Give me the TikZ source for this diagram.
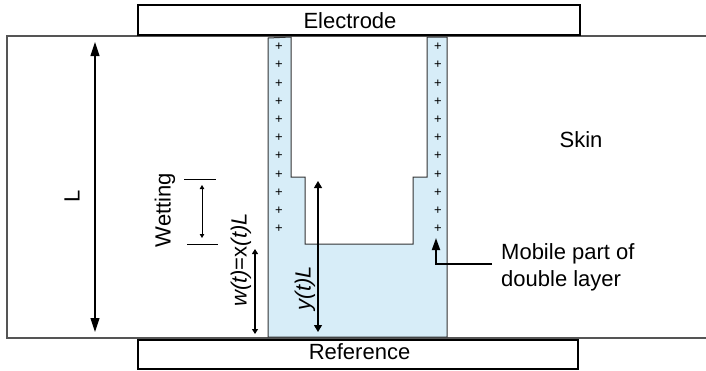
\documentclass[tikz,border=0pt]{standalone}
\usepackage{fontspec}
\setmainfont{Liberation Sans}
\usetikzlibrary{arrows.meta}
\definecolor{chanblue}{RGB}{215,237,248}
\definecolor{skingrey}{RGB}{85,85,85}
\definecolor{chanline}{RGB}{50,50,50}
\begin{document}
\begin{tikzpicture}[x=1pt,y=-1pt,
  lbl/.style={font=\fontsize{22}{26}\selectfont, inner sep=0pt},
  plus/.style={font=\fontsize{13}{14}\selectfont, inner sep=0pt},
  boxx/.style={draw=black, line width=1.1pt, fill=white},
  dim/.style={draw=black, line width=1.1pt},
  bigdim/.style={dim, {Triangle[length=14pt,width=9pt]}-{Triangle[length=14pt,width=9pt]}},
  smalldim/.style={dim, {Triangle[length=5pt,width=6pt]}-{Triangle[length=5pt,width=6pt]}},
  tinydim/.style={draw=black, line width=0.9pt, {Triangle[length=4pt,width=4.5pt]}-{Triangle[length=4pt,width=4.5pt]}},
  midim/.style={dim, {Triangle[length=7pt,width=8pt]}-{Triangle[length=7pt,width=8pt]}},
  bar/.style={draw=black, line width=1pt}
]
\useasboundingbox (0,0) rectangle (706,370);
% skin
\draw[skingrey, line width=1.3pt] (706,36) -- (7,36) -- (7,338) -- (706,338);
% channel (blue double layer region)
\draw[fill=chanblue, draw=chanline, line width=1pt]
  (268,38) -- (291,37) -- (291,177) -- (305,177) -- (305,244) -- (413,244)
  -- (413,177) -- (427,177) -- (427,37) -- (447,37) -- (447,337) -- (268,337) -- cycle;
% electrode and reference boxes
\draw[boxx] (138,5) rectangle (580,35);
\node[lbl, anchor=base] (electrode) at (350,28) {Electrode};
\draw[boxx] (138,340) rectangle (578,369);
\node[lbl, anchor=base] (reference) at (359.5,359) {Reference};
\node[lbl, anchor=base] (skin) at (581,147) {Skin};
% plus signs
\foreach \i in {0,...,10} {
  \node[plus] (pl\i) at (279,{47+18.2*\i}) {+};
  \node[plus] (pr\i) at (438,{47+18.2*\i}) {+};
}
% L dimension
\coordinate (Ltop) at (95,42);
\coordinate (Lbot) at (95,332);
\draw[bigdim] (Ltop) -- (Lbot);
\node[lbl, rotate=90] (Llabel) at (72,196) {L};
% wetting
\coordinate (wb1a) at (184,179); \coordinate (wb1b) at (216,179);
\coordinate (wb2a) at (187,244); \coordinate (wb2b) at (218,244);
\draw[bar] (wb1a) -- (wb1b);
\draw[bar] (wb2a) -- (wb2b);
\coordinate (wtop) at (202,185);
\coordinate (wbot) at (202,238);
\draw[tinydim] (wtop) -- (wbot);
\node[lbl, rotate=90] (wetting) at (165,210) {Wetting};
% w(t)
\coordinate (xtop) at (255,249);
\coordinate (xbot) at (255,334);
\draw[smalldim] (xtop) -- (xbot);
\node[lbl, rotate=90] (wlabel) at (241,260) {\itshape w(t)\upshape=x\itshape(t)L};
% y(t)L
\coordinate (ytop) at (318,181);
\coordinate (ybot) at (318,332);
\draw[midim] (ytop) -- (ybot);
\node[lbl, rotate=90] (ylabel) at (305,288) {\itshape y(t)L};
% mobile part
\node[lbl, anchor=base west] (mob1) at (501,259) {Mobile part of};
\node[lbl, anchor=base west] (mob2) at (501,286) {double layer};
\coordinate (mobS) at (492,264);
\coordinate (mobE) at (436,238);
\draw[draw=black, line width=1.8pt, -{Triangle[length=12pt,width=8pt]}] (mobS) -| (mobE);
\end{tikzpicture}
\end{document}
